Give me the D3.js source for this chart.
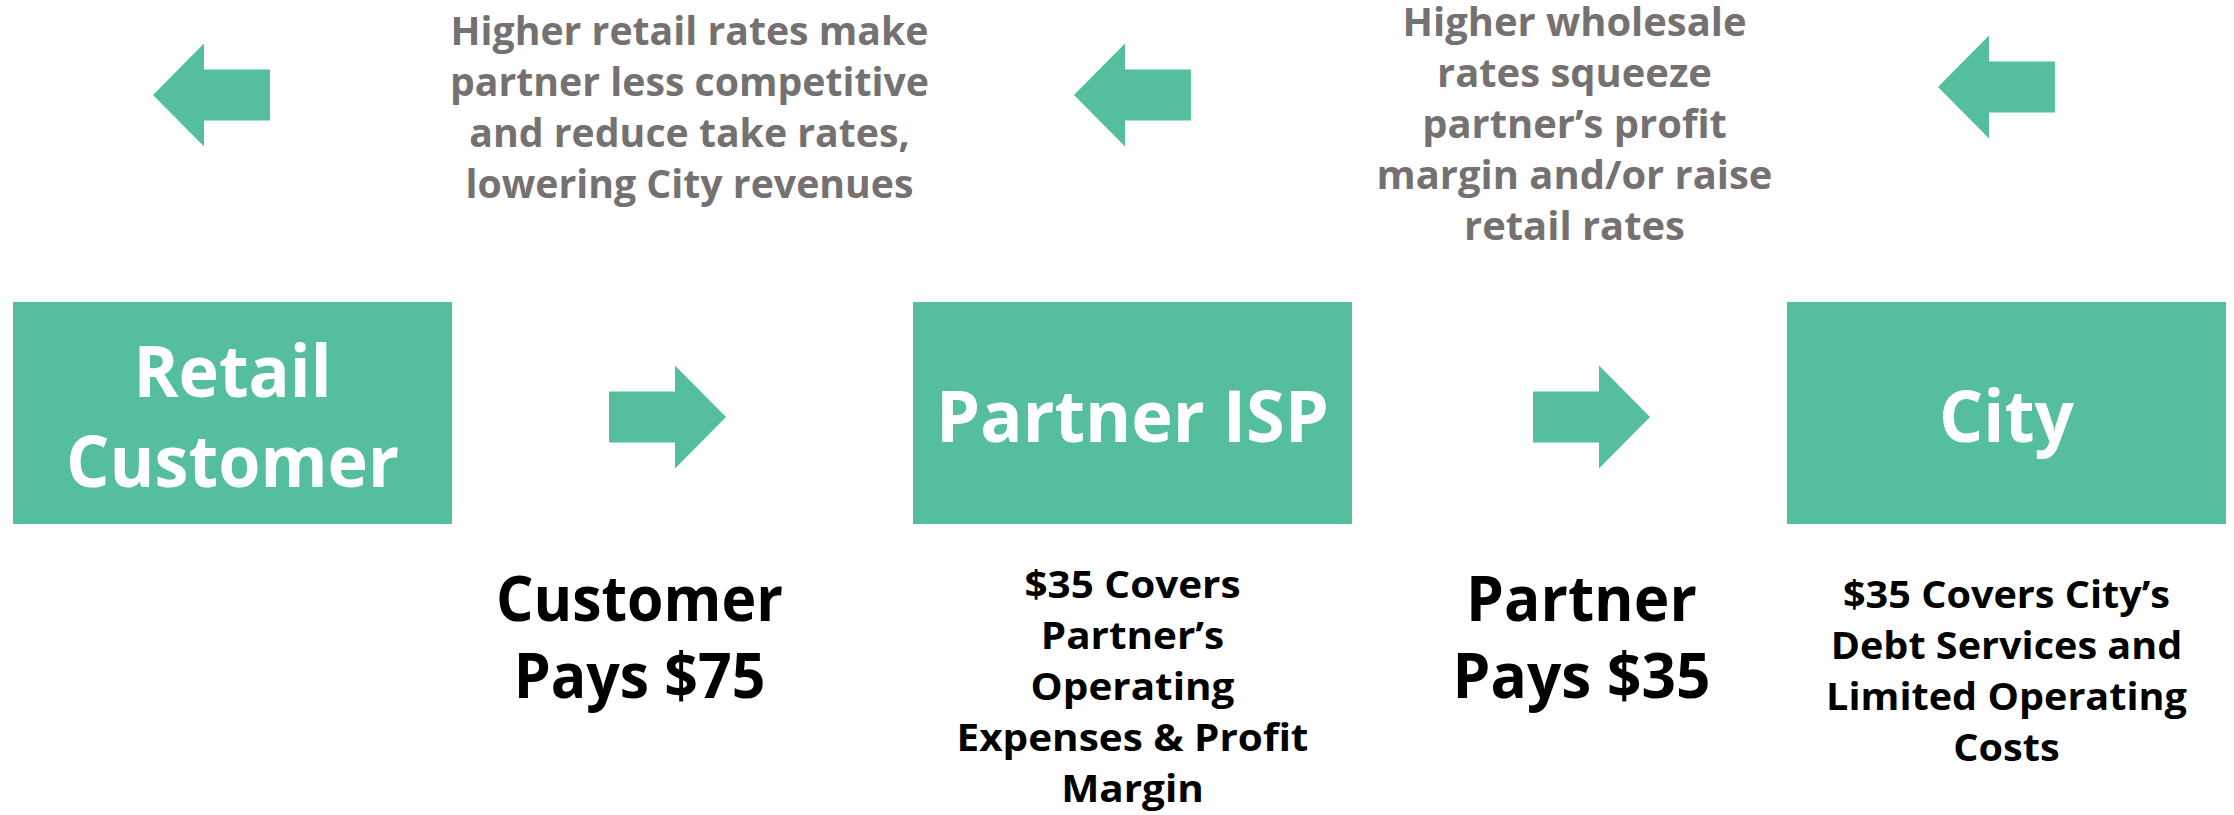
<!DOCTYPE html>
<html>
<head>
<meta charset="utf-8">
<script src="https://cdn.jsdelivr.net/npm/d3@7"></script>
<style>
  html, body { margin: 0; padding: 0; background: #fff; }
  svg { display: block; }
  text { font-family: 'Open Sans', 'Noto Sans', sans-serif; font-weight: 700; }
</style>
</head>
<body>
<svg class="chart"></svg>
<script>
// flow of money between the three parties, left to right
const nodes = ['Retail Customer', 'Partner ISP', 'City'];
const nodeLines = [['Retail', 'Customer'], ['Partner ISP'], ['City']];
const payLines = [['Customer', 'Pays $75'], ['Partner', 'Pays $35']];
const coverLines = [
  [],
  ['$35 Covers', 'Partner\u2019s', 'Operating', 'Expenses & Profit', 'Margin'],
  ['$35 Covers City\u2019s', 'Debt Services and', 'Limited Operating', 'Costs']
];
const feedbackLines = [
  ['Higher retail rates make', 'partner less competitive', 'and reduce take rates,', 'lowering City revenues'],
  ['Higher wholesale', 'rates squeeze', 'partner\u2019s profit', 'margin and/or raise', 'retail rates']
];

const width = 2234;
const height = 815;
const teal = '#55be9f';
const grey = '#767171';

const svg = d3.select('.chart')
  .attr('width', width)
  .attr('height', height)
  .attr('viewBox', `0 0 ${width} ${height}`);

// left edge of each box
const x = d3.scaleOrdinal()
  .domain(nodes)
  .range([13, 913, 1787]);
const boxW = 439;
const boxTop = 302;
const boxH = 222;
const mid = d => x(d) + boxW / 2;
// gap between node i and node i+1
const gapMid = i => (x(nodes[i]) + boxW + x(nodes[i + 1])) / 2;

// small nudges to sit things where the slide has them
const payArrowDx = [-15, 22];
const payTextDx = [-43, 12];
const fbArrowDx = [-21, 0, -10];
const fbArrowY = [95, 95, 87];
const fbTextDx = [7, 5];
const fbTextY = [45, 36];
const coverY = [0, 598, 608];

// block arrow pointing right, centred on 0,0
const arrowW = 117, arrowH = 103, shaftH = 51, headW = 51;
const arrowPts = [
  [-arrowW / 2, -shaftH / 2], [arrowW / 2 - headW, -shaftH / 2], [arrowW / 2 - headW, -arrowH / 2],
  [arrowW / 2, 0],
  [arrowW / 2 - headW, arrowH / 2], [arrowW / 2 - headW, shaftH / 2], [-arrowW / 2, shaftH / 2]
];
const arrowLine = d3.line().curve(d3.curveLinearClosed);

function textBlock(g, lines, opt) {
  const t = g.append('text')
    .attr('text-anchor', 'middle')
    .attr('fill', opt.fill)
    .attr('font-size', opt.size);
  t.selectAll('tspan')
    .data(lines)
    .enter()
    .append('tspan')
    .attr('x', 0)
    .attr('y', (d, i) => opt.y0 + i * opt.lh)
    .text(d => d);
  // squeeze horizontally so the widest line fits the target width
  let widest = 0;
  t.selectAll('tspan').each(function () {
    widest = Math.max(widest, this.getComputedTextLength());
  });
  const sx = widest > 0 ? opt.width / widest : 1;
  t.attr('transform', `translate(${opt.x},0) scale(${sx},1)`);
  return t;
}

// boxes
const boxes = svg.append('g').attr('class', 'boxes');
boxes.selectAll('rect')
  .data(nodes)
  .enter()
  .append('rect')
  .attr('x', d => x(d))
  .attr('y', boxTop)
  .attr('width', boxW)
  .attr('height', boxH)
  .attr('fill', teal);

nodes.forEach((d, i) => {
  const lines = nodeLines[i];
  textBlock(boxes, lines, {
    x: mid(d), y0: 442 - (lines.length - 1) * 45, lh: 90,
    size: 72, fill: '#fff', width: lines.length > 1 ? 333 : (i === 1 ? 393 : 135)
  });
});

// payment arrows (right) and labels
const payG = svg.append('g').attr('class', 'payments');
payG.selectAll('path')
  .data(payLines)
  .enter()
  .append('path')
  .attr('d', arrowLine(arrowPts))
  .attr('transform', (d, i) => `translate(${gapMid(i) + payArrowDx[i]},417)`)
  .attr('fill', teal);

payLines.forEach((lines, i) => {
  textBlock(payG, lines, {
    x: gapMid(i) + payTextDx[i], y0: 621, lh: 77, size: 62, fill: '#000',
    width: i === 0 ? 287 : 258
  });
});

// what each payment covers
coverLines.forEach((lines, i) => {
  if (!lines.length) return;
  textBlock(payG, lines, {
    x: mid(nodes[i]), y0: coverY[i], lh: 51, size: 37, fill: '#000',
    width: i === 1 ? 352 : 361
  });
});

// feedback arrows (left) and notes
const fbG = svg.append('g').attr('class', 'feedback');
fbG.selectAll('path')
  .data(nodes)
  .enter()
  .append('path')
  .attr('d', arrowLine(arrowPts))
  .attr('transform', (d, i) => `translate(${mid(d) + fbArrowDx[i]},${fbArrowY[i]}) scale(-1,1)`)
  .attr('fill', teal);

feedbackLines.forEach((lines, i) => {
  textBlock(fbG, lines, {
    x: gapMid(i) + fbTextDx[i], y0: fbTextY[i], lh: 51, size: 40, fill: grey,
    width: i === 0 ? 479 : 396
  });
});
</script>
</body>
</html>
